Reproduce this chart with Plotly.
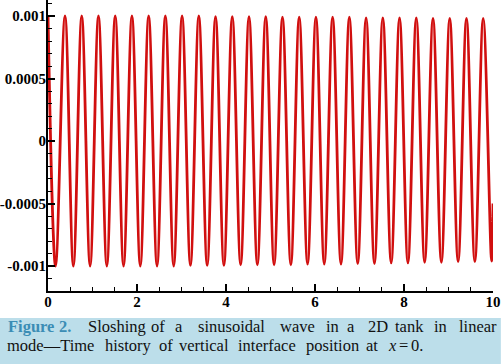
import plotly.graph_objects as go

# ---- data ----
start_point = (0.0, 0.001)
end_point = (10.0, -0.0005)

peak_t = [0.382, 0.758, 1.134, 1.510, 1.886, 2.262, 2.637, 3.013, 3.389, 3.765,
          4.141, 4.517, 4.893, 5.269, 5.645, 6.021, 6.396, 6.772, 7.148, 7.524,
          7.900, 8.276, 8.652, 9.028, 9.404, 9.780]
peak_v = [0.00100, 0.00100, 0.00100, 0.00100, 0.00100, 0.00100, 0.00100, 0.00100,
          0.00100, 0.000995, 0.000995, 0.000995, 0.000995, 0.00099, 0.00099, 0.00099,
          0.00099, 0.00099, 0.000985, 0.000985, 0.000985, 0.000985, 0.00098, 0.00098,
          0.00098, 0.00098]

trough_t = [0.170, 0.570, 0.946, 1.322, 1.698, 2.074, 2.450, 2.825, 3.201, 3.577,
            3.953, 4.329, 4.705, 5.081, 5.457, 5.833, 6.208, 6.584, 6.960, 7.336,
            7.712, 8.088, 8.464, 8.840, 9.216, 9.592, 9.968]
trough_v = [-0.00100, -0.00100, -0.00100, -0.00100, -0.00100, -0.00100, -0.00100,
            -0.00100, -0.000995, -0.000995, -0.000995, -0.00099, -0.00099, -0.00099,
            -0.00099, -0.000985, -0.000985, -0.000985, -0.00098, -0.00098, -0.000975,
            -0.000975, -0.00097, -0.00097, -0.000965, -0.000965, -0.00096]

x_tickvals = [0, 2, 4, 6, 8, 10]
x_ticktext = ["0", "2", "4", "6", "8", "10"]
y_tickvals = [0.001, 0.0005, 0, -0.0005, -0.001]
y_ticktext = ["0.001", "0.0005", "0", "-0.0005", "-0.001"]

caption_line1 = ["<b>Figure</b>", "<b>2.</b>", "Sloshing", "of", "a", "sinusoidal",
                 "wave", "in", "a", "2D", "tank", "in", "linear"]
caption_line2 = ["mode\u2014Time", "history", "of", "vertical", "interface", "position",
                 "at", "<i>x</i>", "=", "0."]

# ---- assemble series ----
pts = [start_point] + list(zip(peak_t, peak_v)) + list(zip(trough_t, trough_v)) + [end_point]
pts.sort(key=lambda p: p[0])
t = [p[0] for p in pts]
z = [p[1] for p in pts]

fig = go.Figure()
fig.add_trace(go.Scatter(x=t, y=z, mode="lines",
                         line=dict(color="#d10f0f", width=2.8, shape="spline", smoothing=1.0),
                         hoverinfo="skip", showlegend=False))

W, H = 501, 364
ML, MR, MT, MB = 45, 3, 0, 73
PW, PH = W - ML - MR, H - MT - MB

def px_x(px):
    return (px - ML) / PW

def px_y(py):
    return (H - MB - py) / PH

tickfont = dict(family="Liberation Serif", size=15, color="black", weight="bold")

fig.update_layout(
    width=W, height=H,
    margin=dict(l=ML, r=MR, t=MT, b=MB, pad=0),
    paper_bgcolor="white", plot_bgcolor="white",
    xaxis=dict(range=[0, 10], showgrid=False, zeroline=False,
               showline=True, linecolor="black", linewidth=2,
               ticks="inside", ticklen=7, tickwidth=1.5, tickcolor="black",
               tickvals=x_tickvals, ticktext=x_ticktext,
               tickfont=tickfont, ticklabeloverflow="allow", ticklabelstandoff=-4,
               minor=dict(dtick=0.5, ticks="inside", ticklen=4, tickwidth=1, tickcolor="black")),
    yaxis=dict(range=[-0.0012, 0.001128], showgrid=False, zeroline=False,
               showline=True, linecolor="black", linewidth=2,
               ticks="inside", ticklen=7, tickwidth=1.5, tickcolor="black",
               tickvals=y_tickvals, ticktext=y_ticktext,
               tickfont=tickfont, ticklabeloverflow="allow", ticklabelstandoff=-3,
               minor=dict(dtick=0.0001, ticks="inside", ticklen=4, tickwidth=1, tickcolor="black")),
)

# caption background
fig.add_shape(type="rect", xref="paper", yref="paper",
              x0=px_x(-5), x1=px_x(506), y0=px_y(318), y1=px_y(366),
              fillcolor="#bcdeea", line=dict(width=0), layer="below")

capfont = dict(family="Liberation Serif", size=16.5)

# caption line 1 (justified: words placed individually)
word_px1 = [3, 55, 85, 149, 173, 197, 280, 327, 348, 370, 397, 437, 462]
for i, (w, xp) in enumerate(zip(caption_line1, word_px1)):
    col = "#3b8db5" if i < 2 else "#111111"
    fig.add_annotation(text=w, x=px_x(xp), y=px_y(326.5), xref="paper", yref="paper",
                       xanchor="left", yanchor="middle", showarrow=False, borderpad=0,
                       font=dict(capfont, color=col))

# caption line 2
word_px2 = [2, 102, 157, 177, 237, 307, 368, 390, 401, 414]
for w, xp in zip(caption_line2, word_px2):
    fig.add_annotation(text=w, x=px_x(xp), y=px_y(345.5), xref="paper", yref="paper",
                       xanchor="left", yanchor="middle", showarrow=False, borderpad=0,
                       font=dict(capfont, color="#111111"))

fig.write_html("out.html")
